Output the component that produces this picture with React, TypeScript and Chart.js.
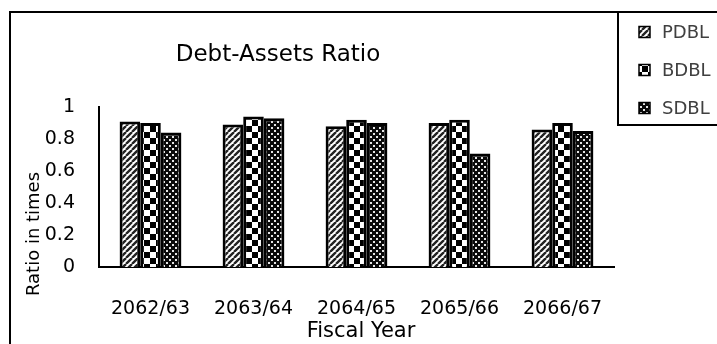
import React, { useEffect, useRef } from "react";
import { Chart, registerables } from "chart.js";

Chart.register(...registerables);

const categories = ["2062/63", "2063/64", "2064/65", "2065/66", "2066/67"];
const seriesNames = ["PDBL", "BDBL", "SDBL"];
const pdbl = [0.91, 0.89, 0.88, 0.9, 0.86];
const bdbl = [0.9, 0.94, 0.92, 0.92, 0.9];
const sdbl = [0.84, 0.93, 0.9, 0.71, 0.85];
const yTicks = [0, 0.2, 0.4, 0.6, 0.8, 1];
const chartTitle = "Debt-Assets Ratio";
const xTitle = "Fiscal Year";
const yTitle = "Ratio in times";

const FONT = "'DejaVu Sans', 'Open Sans', sans-serif";

function makePattern(kind: string): CanvasPattern | string {
  const c = document.createElement("canvas");
  const ctx = c.getContext("2d")!;
  if (kind === "diag") {
    c.width = 6; c.height = 6;
    ctx.fillStyle = "#ffffff";
    ctx.fillRect(0, 0, 6, 6);
    ctx.strokeStyle = "#222222";
    ctx.lineWidth = 2.4;
    ctx.beginPath();
    for (let o = -6; o <= 12; o += 6) {
      ctx.moveTo(o, 6);
      ctx.lineTo(o + 6, 0);
    }
    ctx.stroke();
  } else if (kind === "check") {
    c.width = 12; c.height = 12;
    ctx.fillStyle = "#ffffff";
    ctx.fillRect(0, 0, 12, 12);
    ctx.fillStyle = "#000000";
    ctx.fillRect(0, 0, 6, 6);
    ctx.fillRect(6, 6, 6, 6);
  } else {
    c.width = 6; c.height = 6;
    ctx.fillStyle = "#0a0a0a";
    ctx.fillRect(0, 0, 6, 6);
    ctx.fillStyle = "#e6e6e6";
    ctx.fillRect(1, 1, 2, 2);
    ctx.fillRect(4, 4, 2, 2);
  }
  const p = ctx.createPattern(c, "repeat");
  return p || "#888";
}

export default function App() {
  const ref = useRef<HTMLCanvasElement>(null);

  useEffect(() => {
    document.body.style.margin = "0";
    const canvas = ref.current!;
    const fills = [makePattern("diag"), makePattern("check"), makePattern("dots")];
    const values = [pdbl, bdbl, sdbl];

    const decor = {
      id: "decor",
      afterDraw(chart: any) {
        const ctx = chart.ctx as CanvasRenderingContext2D;
        ctx.save();
        ctx.strokeStyle = "#000";
        ctx.lineWidth = 2;
        ctx.beginPath();
        ctx.moveTo(10, 344);
        ctx.lineTo(10, 12);
        ctx.lineTo(717, 12);
        ctx.stroke();
        ctx.beginPath();
        ctx.moveTo(618, 12);
        ctx.lineTo(618, 125);
        ctx.lineTo(717, 125);
        ctx.stroke();
        ctx.fillStyle = "#000";
        ctx.font = `23px ${FONT}`;
        ctx.textAlign = "center";
        ctx.textBaseline = "middle";
        ctx.fillText(chartTitle, 278, 55);
        ctx.font = `21px ${FONT}`;
        ctx.fillText(xTitle, 361, 332);
        ctx.save();
        ctx.translate(34, 234);
        ctx.rotate(-Math.PI / 2);
        ctx.font = `18px ${FONT}`;
        ctx.fillText(yTitle, 0, 0);
        ctx.restore();
        const ys = [32, 70, 108];
        ctx.font = `18px ${FONT}`;
        ctx.textAlign = "left";
        chart.data.datasets.forEach((ds: any, i: number) => {
          const y = ys[i];
          ctx.fillStyle = ds.backgroundColor;
          ctx.fillRect(639, y - 5.5, 11, 11);
          ctx.lineWidth = 1.5;
          ctx.strokeStyle = "#000";
          ctx.strokeRect(639, y - 5.5, 11, 11);
          ctx.fillStyle = "#404040";
          ctx.fillText(ds.label, 662, y + 1);
        });
        ctx.restore();
      },
    };

    const chart = new Chart(canvas, {
      type: "bar",
      data: {
        labels: categories,
        datasets: seriesNames.map((n, i) => ({
          label: n,
          data: values[i],
          backgroundColor: fills[i] as any,
          borderColor: "#000",
          borderWidth: 3,
          categoryPercentage: 0.6,
          barPercentage: 1,
        })),
      },
      options: {
        responsive: false,
        animation: false,
        layout: { padding: { left: 0, top: 107, right: 103, bottom: 0 } },
        plugins: {
          legend: { display: false },
          title: { display: false },
          tooltip: { enabled: false },
        },
        scales: {
          x: {
            grid: { display: false, drawTicks: false },
            border: { display: true, color: "#000", width: 2 },
            ticks: { color: "#000", font: { family: FONT, size: 19 }, padding: 31, maxRotation: 0 },
            afterFit: (s: any) => { s.height = 77; },
          },
          y: {
            min: 0,
            max: 1,
            grid: { display: false, drawTicks: false },
            border: { display: true, color: "#000", width: 2 },
            afterBuildTicks: (s: any) => { s.ticks = yTicks.map((v) => ({ value: v })); },
            ticks: {
              color: "#000",
              font: { family: FONT, size: 19 },
              padding: 24,
              callback: (v: any) => String(parseFloat(Number(v).toFixed(1))),
            },
            afterFit: (s: any) => { s.width = 99; },
          },
        },
      },
      plugins: [decor],
    });
    return () => chart.destroy();
  }, []);

  return <canvas ref={ref} width={717} height={344} style={{ display: "block" }} />;
}
